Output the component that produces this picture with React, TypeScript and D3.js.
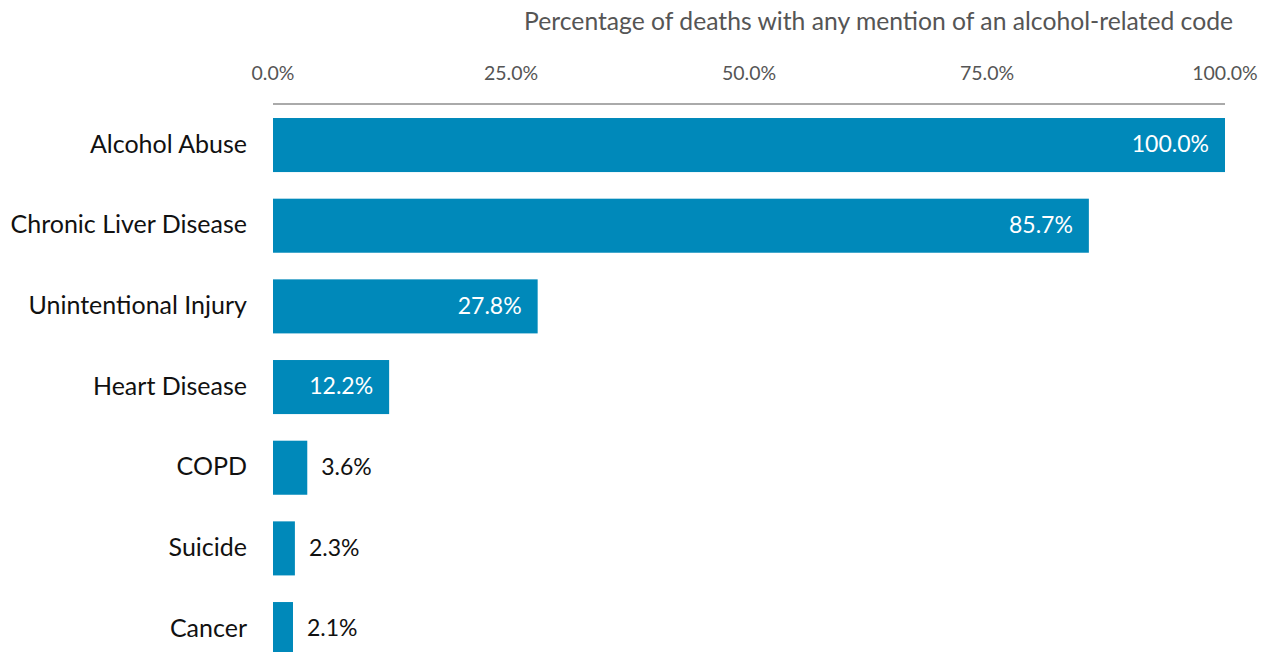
import React, { useEffect, useRef } from 'react';
import * as d3 from 'd3';

const categories = [
  'Alcohol Abuse',
  'Chronic Liver Disease',
  'Unintentional Injury',
  'Heart Disease',
  'COPD',
  'Suicide',
  'Cancer',
];
const values = [100.0, 85.7, 27.8, 12.2, 3.6, 2.3, 2.1];
const tickValues = [0, 25, 50, 75, 100];
const axisTitle = 'Percentage of deaths with any mention of an alcohol-related code';

const W = 1271;
const H = 652;

const App: React.FC = () => {
  const svgRef = useRef<SVGSVGElement>(null);

  useEffect(() => {
    if (!svgRef.current) return;
    const svg = d3.select(svgRef.current);
    svg.selectAll('*').remove();

    const font = 'Lato, "Open Sans", sans-serif';

    const x = d3.scaleLinear().domain([0, 100]).range([273, 1225]);
    const y = d3
      .scaleBand<string>()
      .domain(categories)
      .range([104.7, 669.4])
      .paddingInner(0.33)
      .paddingOuter(0.165);

    // title
    svg
      .append('text')
      .attr('x', 1233)
      .attr('y', 30)
      .attr('text-anchor', 'end')
      .style('font-family', font)
      .style('font-size', '24.7px')
      .style('fill', '#555')
      .text(axisTitle);

    // tick labels
    svg
      .append('g')
      .selectAll('text')
      .data(tickValues)
      .join('text')
      .attr('x', (d) => x(d))
      .attr('y', 80)
      .attr('text-anchor', 'middle')
      .style('font-family', font)
      .style('font-size', '19.5px')
      .style('fill', '#555')
      .text((d) => d3.format('.1f')(d) + '%');

    // axis line
    svg
      .append('line')
      .attr('x1', x(0))
      .attr('x2', x(100))
      .attr('y1', 104)
      .attr('y2', 104)
      .style('stroke', '#aaa')
      .style('stroke-width', 2);

    const rows = svg
      .append('g')
      .selectAll('g')
      .data(categories.map((c, i) => ({ c, v: values[i] })))
      .join('g');

    rows
      .append('rect')
      .attr('x', x(0))
      .attr('y', (d) => y(d.c)!)
      .attr('width', (d) => x(d.v) - x(0))
      .attr('height', y.bandwidth())
      .style('fill', '#0089ba');

    rows
      .append('text')
      .attr('x', 247)
      .attr('y', (d) => y(d.c)! + y.bandwidth() / 2)
      .attr('dy', '0.3em')
      .attr('text-anchor', 'end')
      .style('font-family', font)
      .style('font-size', '25px')
      .style('fill', '#111')
      .text((d) => d.c);

    rows
      .append('text')
      .attr('x', (d) => (d.v > 10 ? x(d.v) - 16 : x(d.v) + 14))
      .attr('y', (d) => y(d.c)! + y.bandwidth() / 2)
      .attr('dy', '0.32em')
      .attr('text-anchor', (d) => (d.v > 10 ? 'end' : 'start'))
      .style('font-family', font)
      .style('font-size', '23px')
      .style('fill', (d) => (d.v > 10 ? '#fff' : '#111'))
      .text((d) => d3.format('.1f')(d.v) + '%');
  }, []);

  return (
    <svg
      ref={svgRef}
      width={W}
      height={H}
      style={{ position: 'absolute', left: 0, top: 0, display: 'block' }}
    />
  );
};

export default App;
